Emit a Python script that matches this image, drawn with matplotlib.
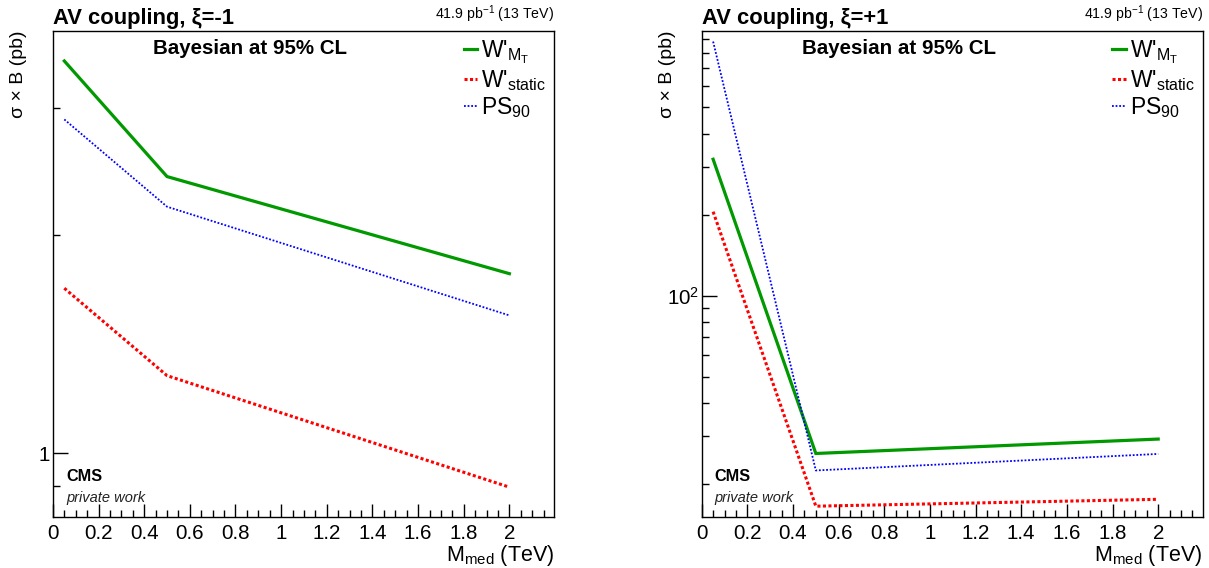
import matplotlib
matplotlib.use('Agg')
import matplotlib.pyplot as plt
from matplotlib.ticker import FixedLocator, NullFormatter, MultipleLocator

plt.rcParams['font.family'] = ['Liberation Sans', 'DejaVu Sans']
plt.rcParams['mathtext.fontset'] = 'custom'
plt.rcParams['mathtext.rm'] = 'Liberation Sans'
plt.rcParams['mathtext.it'] = 'Liberation Sans:italic'
plt.rcParams['mathtext.bf'] = 'Liberation Sans:bold'

# 数据: 质量点 (TeV) 和三种方法的上限 (pb)
mass = [0.05, 0.5, 2.0]

left_wmt = [3.48, 2.41, 1.77]
left_static = [1.69, 1.28, 0.898]
left_ps90 = [2.89, 2.19, 1.55]

right_wmt = [321, 25.9, 29.3]
right_static = [205, 16.5, 17.5]
right_ps90 = [879, 22.4, 25.8]

labels = ["W'$_{\\mathrm{M_T}}$", "W'$_{\\mathrm{static}}$", "PS$_{\\mathrm{90}}$"]
titles = ['AV coupling, ξ=-1', 'AV coupling, ξ=+1']
xticks = [0, 0.2, 0.4, 0.6, 0.8, 1, 1.2, 1.4, 1.6, 1.8, 2]
ylims = [(0.8175, 3.834), (15.08, 966)]
ymajor = [[1], [100]]
ymajor_lbl = [['1'], ['$10^{2}$']]
yminor = [[0.9, 2, 3],
          [20, 30, 40, 50, 60, 70, 80, 90, 200, 300, 400, 500, 600, 700, 800, 900]]

W, H = 1209, 568
fig = plt.figure(figsize=(W / 100, H / 100), dpi=100)

ax_left = fig.add_axes([52.9 / W, 1 - 516.7 / H, 501 / W, 486.2 / H])
ax_right = fig.add_axes([701.7 / W, 1 - 516.7 / H, 501 / W, 486.2 / H])


def 作图(ax, wmt, static, ps90, i):
    l1, = ax.plot(mass, wmt, color='#009900', lw=2.3, solid_joinstyle='miter')
    l2, = ax.plot(mass, static, color='#ff0000', lw=2.2, linestyle=(0, (1, 0.8)))
    l3, = ax.plot(mass, ps90, color='#0000ff', lw=1.3, linestyle=(0, (1, 1)))

    ax.set_yscale('log')
    ax.set_xlim(0, 2.195)
    ax.set_ylim(*ylims[i])
    ax.xaxis.set_major_locator(FixedLocator(xticks))
    ax.xaxis.set_minor_locator(MultipleLocator(0.05))
    ax.xaxis.set_major_formatter(plt.FuncFormatter(lambda v, p: f'{v:g}'))
    ax.yaxis.set_major_locator(FixedLocator(ymajor[i]))
    ax.yaxis.set_major_formatter(plt.FixedFormatter(ymajor_lbl[i]))
    ax.yaxis.set_minor_locator(FixedLocator(yminor[i]))
    ax.yaxis.set_minor_formatter(NullFormatter())

    ax.tick_params(axis='x', which='major', direction='in', length=9.1, width=1,
                   labelsize=14.8, pad=5.6, top=False)
    ax.tick_params(axis='x', which='minor', direction='in', length=4.8, width=1, top=False)
    ax.tick_params(axis='y', which='major', direction='in', length=10.8, width=1,
                   labelsize=14.8, pad=2, right=False)
    ax.tick_params(axis='y', which='minor', direction='in', length=5.2, width=1, right=False)
    for s in ax.spines.values():
        s.set_linewidth(1.0)

    # 标题和文字
    ax.text(0, 1 + 6.5 / 486.2, titles[i], transform=ax.transAxes, ha='left',
            va='baseline', fontsize=15.8, fontweight='bold')
    ax.text(1, 1 + 11.5 / 486.2, '41.9 pb$^{-1}$ (13 TeV)', transform=ax.transAxes,
            ha='right', va='baseline', fontsize=10.2)
    ax.text(0.1998, 0.9517, 'Bayesian at 95% CL', transform=ax.transAxes, ha='left',
            va='baseline', fontsize=14.8, fontweight='bold')
    ax.text(0.026, 0.074, 'CMS', transform=ax.transAxes, ha='left', va='baseline',
            fontsize=11.7, fontweight='bold')
    ax.text(0.026, 0.031, 'private work', transform=ax.transAxes, ha='left',
            va='baseline', fontsize=10.5, style='italic', color='#222222')
    ax.text(1, -(561 - 516.7) / 486.2, 'M$_{\\mathrm{med}}$ (TeV)', transform=ax.transAxes,
            ha='right', va='baseline', fontsize=15.5)

    ax.legend([l1, l2, l3], labels, loc='upper right', bbox_to_anchor=(1.0, 1.0),
              fontsize=16.5, frameon=False, handlelength=0.6, handletextpad=0.15,
              labelspacing=0.08, borderaxespad=0.25, borderpad=0.1)


作图(ax_left, left_wmt, left_static, left_ps90, 0)
作图(ax_right, right_wmt, right_static, right_ps90, 1)

# y轴标题
for x0 in [19, 19 + 648.8]:
    fig.text(x0 / W, 1 - 30.5 / H, 'σ × B (pb)', rotation=90, ha='center', va='top',
             fontsize=14)

plt.savefig('out.png', dpi=100)
